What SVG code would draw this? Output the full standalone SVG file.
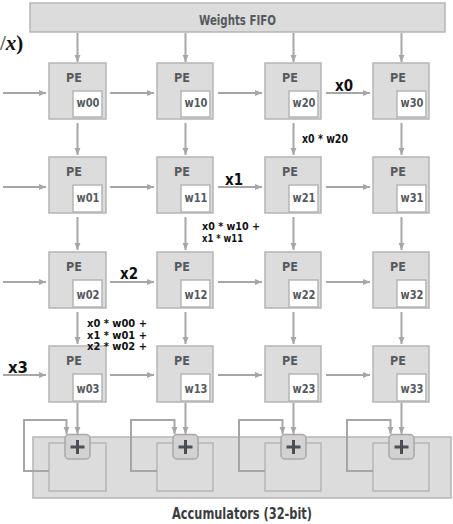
<svg xmlns="http://www.w3.org/2000/svg" width="453" height="524" viewBox="0 0 453 524">
<style>
.box{fill:#dcdcdd;stroke:#b5b5b5;stroke-width:1.5}
.inner{fill:#ffffff;stroke:#b5b5b5;stroke-width:1.5}
.acc{fill:none;stroke:#b5b5b5;stroke-width:1.5}
.plus{fill:#d2d2d3;stroke:#a8a8a8;stroke-width:1.5}
.ps{stroke:#4a4e56;stroke-width:3;fill:none}
.ar{stroke:#a6a6a6;stroke-width:2;fill:none;marker-end:url(#ah)}
.t{font-family:'Liberation Sans Narrow','DejaVu Sans Condensed','Liberation Sans',sans-serif;font-weight:bold;font-stretch:condensed}
.pe{font-size:12.5px;fill:#555a5e;text-anchor:middle}
.w{font-size:12.5px;fill:#555a5e}
.big{font-size:16px;fill:#111}
.lab{font-size:12px;fill:#111}
.lab2{font-size:11px;fill:#111}
.lab3{font-size:10.5px;fill:#111}
.hdr{font-size:14px;fill:#555a5e}
</style>
<defs>
<marker id="ah" viewBox="0 0 8 8" refX="7.5" refY="4" markerWidth="8" markerHeight="8" markerUnits="userSpaceOnUse" orient="auto">
<path d="M0,0.8 L7.5,4 L0,7.2 z" fill="#a6a6a6"/>
</marker>
</defs>

<text x="0" y="50" font-family="'Liberation Serif',serif" font-weight="bold" font-size="21" fill="#111"><tspan fill="#666">/</tspan><tspan font-style="italic">x</tspan>)</text>

<g id="weights-fifo">
<rect class="box" x="30" y="3" width="415" height="29"/>
<text class="t hdr" x="199" y="25" textLength="77" lengthAdjust="spacingAndGlyphs">Weights FIFO</text>
</g>

<g id="accumulators">
<rect class="box" x="33" y="437" width="418" height="61"/>
<rect class="acc" x="49" y="443" width="57" height="48"/>
<rect class="acc" x="157" y="443" width="56" height="48"/>
<rect class="acc" x="265" y="443" width="56" height="48"/>
<rect class="acc" x="373" y="443" width="56" height="48"/>
<text class="t" x="172" y="519" font-size="15" fill="#3a3c40" textLength="140" lengthAdjust="spacingAndGlyphs">Accumulators (32-bit)</text>
</g>

<g id="connectors">
<line class="ar" x1="77.5" y1="33" x2="77.5" y2="62"/>
<line class="ar" x1="185.5" y1="33" x2="185.5" y2="62"/>
<line class="ar" x1="293.5" y1="33" x2="293.5" y2="62"/>
<line class="ar" x1="401.5" y1="33" x2="401.5" y2="62"/>
<line class="ar" x1="77.5" y1="123" x2="77.5" y2="155"/>
<line class="ar" x1="185.5" y1="123" x2="185.5" y2="155"/>
<line class="ar" x1="293.5" y1="123" x2="293.5" y2="155"/>
<line class="ar" x1="401.5" y1="123" x2="401.5" y2="155"/>
<line class="ar" x1="77.5" y1="217" x2="77.5" y2="250"/>
<line class="ar" x1="185.5" y1="217" x2="185.5" y2="250"/>
<line class="ar" x1="293.5" y1="217" x2="293.5" y2="250"/>
<line class="ar" x1="401.5" y1="217" x2="401.5" y2="250"/>
<line class="ar" x1="77.5" y1="312" x2="77.5" y2="344"/>
<line class="ar" x1="185.5" y1="312" x2="185.5" y2="344"/>
<line class="ar" x1="293.5" y1="312" x2="293.5" y2="344"/>
<line class="ar" x1="401.5" y1="312" x2="401.5" y2="344"/>
<line class="ar" x1="77.5" y1="403" x2="77.5" y2="434"/>
<line class="ar" x1="185.5" y1="403" x2="185.5" y2="434"/>
<line class="ar" x1="293.5" y1="403" x2="293.5" y2="434"/>
<line class="ar" x1="401.5" y1="403" x2="401.5" y2="434"/>
<line class="ar" x1="3" y1="93" x2="46" y2="93"/>
<line class="ar" x1="110" y1="93" x2="154" y2="93"/>
<line class="ar" x1="218" y1="93" x2="262" y2="93"/>
<line class="ar" x1="326" y1="93" x2="370" y2="93"/>
<line class="ar" x1="3" y1="187" x2="46" y2="187"/>
<line class="ar" x1="110" y1="187" x2="154" y2="187"/>
<line class="ar" x1="218" y1="187" x2="262" y2="187"/>
<line class="ar" x1="326" y1="187" x2="370" y2="187"/>
<line class="ar" x1="3" y1="282" x2="46" y2="282"/>
<line class="ar" x1="110" y1="282" x2="154" y2="282"/>
<line class="ar" x1="218" y1="282" x2="262" y2="282"/>
<line class="ar" x1="326" y1="282" x2="370" y2="282"/>
<line class="ar" x1="3" y1="375" x2="46" y2="375"/>
<line class="ar" x1="110" y1="375" x2="154" y2="375"/>
<line class="ar" x1="218" y1="375" x2="262" y2="375"/>
<line class="ar" x1="326" y1="375" x2="370" y2="375"/>
<polyline class="ar" points="49,471 24,471 24,420 66.5,420 66.5,434"/>
<polyline class="ar" points="157,471 131,471 131,420 174.5,420 174.5,434"/>
<polyline class="ar" points="265,471 239,471 239,420 282.5,420 282.5,434"/>
<polyline class="ar" points="373,471 347,471 347,420 390.5,420 390.5,434"/>
</g>

<g id="adders">
<g id="add0"><rect class="plus" x="65" y="434.5" width="25" height="24.5" rx="4"/><path class="ps" d="M70.5,447 H84.5 M77.5,440 V454"/></g>
<g id="add1"><rect class="plus" x="173" y="434.5" width="25" height="24.5" rx="4"/><path class="ps" d="M178.5,447 H192.5 M185.5,440 V454"/></g>
<g id="add2"><rect class="plus" x="281" y="434.5" width="25" height="24.5" rx="4"/><path class="ps" d="M286.5,447 H300.5 M293.5,440 V454"/></g>
<g id="add3"><rect class="plus" x="389" y="434.5" width="25" height="24.5" rx="4"/><path class="ps" d="M394.5,447 H408.5 M401.5,440 V454"/></g>
</g>

<g id="pe00"><rect class="box" x="49" y="63" width="57" height="56"/><rect class="inner" x="73" y="91" width="29" height="26"/><text class="t pe" x="74" y="82">PE</text><text class="t w" x="76.5" y="107" textLength="23" lengthAdjust="spacingAndGlyphs">w00</text></g>
<g id="pe10"><rect class="box" x="157" y="63" width="56" height="56"/><rect class="inner" x="181" y="91" width="29" height="26"/><text class="t pe" x="182" y="82">PE</text><text class="t w" x="184.5" y="107" textLength="23" lengthAdjust="spacingAndGlyphs">w10</text></g>
<g id="pe20"><rect class="box" x="265" y="63" width="56" height="56"/><rect class="inner" x="289" y="91" width="29" height="26"/><text class="t pe" x="290" y="82">PE</text><text class="t w" x="292.5" y="107" textLength="23" lengthAdjust="spacingAndGlyphs">w20</text></g>
<g id="pe30"><rect class="box" x="373" y="63" width="56" height="56"/><rect class="inner" x="397" y="91" width="29" height="26"/><text class="t pe" x="398" y="82">PE</text><text class="t w" x="400.5" y="107" textLength="23" lengthAdjust="spacingAndGlyphs">w30</text></g>

<g id="pe01"><rect class="box" x="49" y="157" width="57" height="56"/><rect class="inner" x="73" y="185" width="29" height="27"/><text class="t pe" x="74" y="176">PE</text><text class="t w" x="76.5" y="202" textLength="23" lengthAdjust="spacingAndGlyphs">w01</text></g>
<g id="pe11"><rect class="box" x="157" y="157" width="56" height="56"/><rect class="inner" x="181" y="185" width="29" height="27"/><text class="t pe" x="182" y="176">PE</text><text class="t w" x="184.5" y="202" textLength="23" lengthAdjust="spacingAndGlyphs">w11</text></g>
<g id="pe21"><rect class="box" x="265" y="157" width="56" height="56"/><rect class="inner" x="289" y="185" width="29" height="27"/><text class="t pe" x="290" y="176">PE</text><text class="t w" x="292.5" y="202" textLength="23" lengthAdjust="spacingAndGlyphs">w21</text></g>
<g id="pe31"><rect class="box" x="373" y="157" width="56" height="56"/><rect class="inner" x="397" y="185" width="29" height="27"/><text class="t pe" x="398" y="176">PE</text><text class="t w" x="400.5" y="202" textLength="23" lengthAdjust="spacingAndGlyphs">w31</text></g>

<g id="pe02"><rect class="box" x="49" y="252" width="57" height="56"/><rect class="inner" x="73" y="280" width="29" height="27"/><text class="t pe" x="74" y="271">PE</text><text class="t w" x="76.5" y="299" textLength="23" lengthAdjust="spacingAndGlyphs">w02</text></g>
<g id="pe12"><rect class="box" x="157" y="252" width="56" height="56"/><rect class="inner" x="181" y="280" width="29" height="27"/><text class="t pe" x="182" y="271">PE</text><text class="t w" x="184.5" y="299" textLength="23" lengthAdjust="spacingAndGlyphs">w12</text></g>
<g id="pe22"><rect class="box" x="265" y="252" width="56" height="56"/><rect class="inner" x="289" y="280" width="29" height="27"/><text class="t pe" x="290" y="271">PE</text><text class="t w" x="292.5" y="299" textLength="23" lengthAdjust="spacingAndGlyphs">w22</text></g>
<g id="pe32"><rect class="box" x="373" y="252" width="56" height="56"/><rect class="inner" x="397" y="280" width="29" height="27"/><text class="t pe" x="398" y="271">PE</text><text class="t w" x="400.5" y="299" textLength="23" lengthAdjust="spacingAndGlyphs">w32</text></g>

<g id="pe03"><rect class="box" x="49" y="346" width="57" height="56"/><rect class="inner" x="73" y="374" width="29" height="27"/><text class="t pe" x="74" y="365">PE</text><text class="t w" x="76.5" y="393" textLength="23" lengthAdjust="spacingAndGlyphs">w03</text></g>
<g id="pe13"><rect class="box" x="157" y="346" width="56" height="56"/><rect class="inner" x="181" y="374" width="29" height="27"/><text class="t pe" x="182" y="365">PE</text><text class="t w" x="184.5" y="393" textLength="23" lengthAdjust="spacingAndGlyphs">w13</text></g>
<g id="pe23"><rect class="box" x="265" y="346" width="56" height="56"/><rect class="inner" x="289" y="374" width="29" height="27"/><text class="t pe" x="290" y="365">PE</text><text class="t w" x="292.5" y="393" textLength="23" lengthAdjust="spacingAndGlyphs">w23</text></g>
<g id="pe33"><rect class="box" x="373" y="346" width="56" height="56"/><rect class="inner" x="397" y="374" width="29" height="27"/><text class="t pe" x="398" y="365">PE</text><text class="t w" x="400.5" y="393" textLength="23" lengthAdjust="spacingAndGlyphs">w33</text></g>

<g id="labels">
<text class="t big" x="335" y="91" textLength="18" lengthAdjust="spacingAndGlyphs">x0</text>
<text class="t big" x="225" y="185" textLength="18" lengthAdjust="spacingAndGlyphs">x1</text>
<text class="t big" x="120" y="279" textLength="18" lengthAdjust="spacingAndGlyphs">x2</text>
<text class="t big" x="8" y="373" textLength="20" lengthAdjust="spacingAndGlyphs">x3</text>
<text class="t lab" x="302" y="143" textLength="46" lengthAdjust="spacingAndGlyphs">x0 * w20</text>
<text class="t lab2" x="202" y="230" textLength="58" lengthAdjust="spacingAndGlyphs">x0 * w10 +</text>
<text class="t lab2" x="202" y="241.5" textLength="41" lengthAdjust="spacingAndGlyphs">x1 * w11</text>
<text class="t lab3" x="87" y="327" textLength="60" lengthAdjust="spacingAndGlyphs">x0 * w00 +</text>
<text class="t lab3" x="87" y="338.5" textLength="60" lengthAdjust="spacingAndGlyphs">x1 * w01 +</text>
<text class="t lab3" x="87" y="350" textLength="60" lengthAdjust="spacingAndGlyphs">x2 * w02 +</text>
</g>
</svg>
